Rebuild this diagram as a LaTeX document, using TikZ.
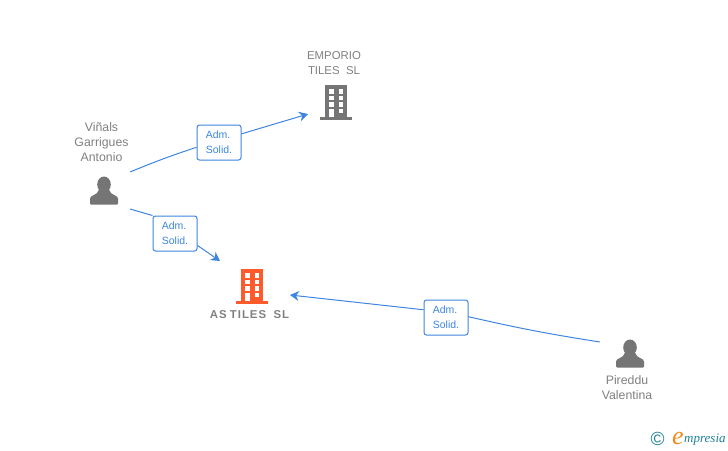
\documentclass[tikz,border=0pt]{standalone}
\usepackage{fontspec}
\setmainfont{Liberation Sans}
\newfontfamily\logofont{Liberation Serif}
\usetikzlibrary{arrows.meta}

\definecolor{linkblue}{HTML}{3D85E0}
\definecolor{labelgrey}{HTML}{808080}
\definecolor{icongrey}{HTML}{757575}
\definecolor{mainorange}{HTML}{FF5A2B}
\definecolor{logoteal}{HTML}{1F7F96}
\definecolor{logoorange}{HTML}{F08A1D}

\tikzset{
    rolebox/.style={draw=linkblue, fill=white, rounded corners=2.5pt, line width=1pt,
        minimum width=44pt, minimum height=35pt, inner sep=0pt, align=left,
        text=linkblue, font=\fontsize{10.5}{15}\selectfont},
    namelabel/.style={align=center, text=labelgrey, inner sep=0pt,
        font=\fontsize{12.3}{15}\selectfont},
    firmlabel/.style={namelabel, font=\fontsize{11.4}{15}\selectfont},
    link/.style={draw=linkblue, line width=1pt},
    linkarrow/.style={link, -{Stealth[length=9pt,width=10pt,inset=3pt]}},
    pics/building/.style={code={
        % Body and base
        \fill[#1] (-11,-16) rectangle (11,16);
        \fill[#1] (-16,15.5) rectangle (16,18.5);
        % Windows, two columns and four rows
        \foreach \wx in {-6.7,2.7} \foreach \wy in {-11.7,-5,1.3} {
            \fill[white] (\wx,\wy) rectangle +(4.6,4.2);
        }
        \fill[white] (-6.7,7.5) rectangle (-2.1,15.5);
        \fill[white] (2.7,7.5) rectangle (7.3,11.7);
    }},
    pics/person/.style={code={
        % Head
        \fill[icongrey] (0,-6.5) ellipse (6.8 and 8);
        % Shoulders
        \fill[icongrey, rounded corners=1pt] (-14,13.5) -- (-14,8.5)
            .. controls (-14,4) and (-6.5,4.5) .. (-5,-2) -- (5,-2)
            .. controls (6.5,4.5) and (14,4) .. (14,8.5) -- (14,13.5) -- cycle;
    }}
}

\begin{document}
\begin{tikzpicture}[x=1pt, y=-1pt]
    \useasboundingbox (0,0) rectangle (728,450);

    % Companies
    \pic at (336,101) {building=icongrey};
    \node[firmlabel] (emporio) at (334,63.5) {EMPORIO\\TILES\ \ SL};
    \pic at (252,285) {building=mainorange};
    \node[firmlabel, font=\fontsize{11.4}{15}\selectfont\bfseries] (astiles) at (249.5,314.5)
        {A\kern1pt S T\kern1pt I\kern1pt L\kern1pt E\kern1pt S\ \ \kern1pt S\kern1pt L};

    % People
    \pic at (104,191) {person};
    \node[namelabel] (vinals) at (101.5,142.5) {Viñals\\Garrigues\\Antonio};
    \pic at (630,354) {person};
    \node[namelabel] (pireddu) at (627,388) {Pireddu\\Valentina};

    % Free ends of the connectors
    \coordinate (vinalsa) at (130,172);
    \coordinate (vinalsb) at (130,209);
    \coordinate (piredduout) at (600,342);
    \coordinate (emporioin) at (308,114);
    \coordinate (astilesa) at (220,261);
    \coordinate (astilesb) at (290,295);

    % Role boxes
    \node[rolebox] (admone) at (219,142.5) {Adm.\\Solid.};
    \node[rolebox] (admtwo) at (175,233.5) {Adm.\\Solid.};
    \node[rolebox] (admthree) at (446,317.5) {Adm.\\Solid.};

    % Connectors
    \draw[link] (vinalsa) to[bend left=2] (admone.192);
    \draw[linkarrow] (admone.21) -- (emporioin);
    \draw[link] (vinalsb) -- (admtwo.north west);
    \draw[linkarrow] (admtwo.-28) -- (astilesa);
    \draw[link] (piredduout) to[bend left=2] (admthree.2);
    \draw[linkarrow] (admthree.161) -- (astilesb);

    % Logo
    \node[text=logoteal, inner sep=0pt, font=\fontsize{19}{19}\selectfont] (copyr) at (657.5,438.5) {©};
    \node[text=logoorange, inner sep=0pt, font=\logofont\itshape\fontsize{26}{26}\selectfont] (logoe) at (678,438.5) {e};
    \node[text=logoteal, inner sep=0pt, anchor=base west, font=\logofont\itshape\fontsize{13}{13}\selectfont] (logotext) at (684,442) {mpresia};
\end{tikzpicture}
\end{document}
